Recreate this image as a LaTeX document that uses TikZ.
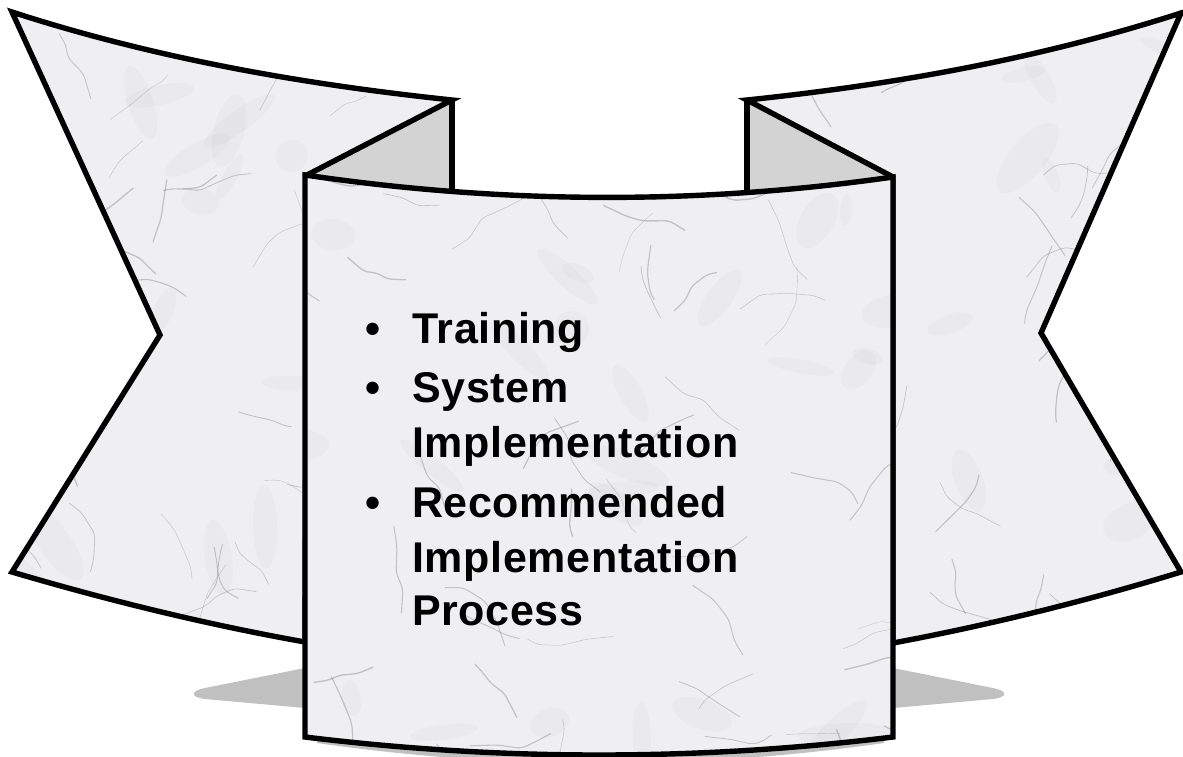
\documentclass[tikz,border=0pt]{standalone}
\usepackage{fontspec}
\newfontfamily\labfont{Liberation Sans}[LetterSpace=1.5]
\definecolor{marble}{HTML}{EFEFF1}
\definecolor{veincol}{HTML}{7E7E88}
\definecolor{foldgray}{HTML}{D3D3D3}
\definecolor{shadowgray}{HTML}{C0C0C0}
\tikzset{
  outline/.style={draw=black,line width=5.4pt},
  veinline/.style={draw=veincol,opacity=0.4,rounded corners=5pt,line cap=round},
  blotch/.style={fill=veincol,opacity=0.045},
  itemtext/.style={font=\labfont\bfseries\fontsize{43}{50}\selectfont,anchor=base west,inner sep=0pt},
  bullettext/.style={font=\labfont\bfseries\fontsize{43}{50}\selectfont,anchor=base,inner sep=0pt}
}
\def\leftribbon{(12,12) .. controls (160,60) and (310,85) .. (452,100) -- (307,175) -- (305,642) .. controls (215,626) and (117,603) .. (12,572) -- (160,335) -- cycle}
\def\rightribbon{(747,100) .. controls (890,85) and (1035,60) .. (1181,13) -- (1041,333) -- (1181,572) .. controls (1080,603) and (984,626) .. (893,643) -- (893,177) -- cycle}
\def\centerpanel{(305,175) .. controls (502,204) and (698,205) .. (893,177) -- (893,737) .. controls (697,761) and (501,761) .. (305,737) -- cycle}
\newcommand\marblework[1]{%
  \pgfmathsetseed{#1}%
  \foreach \k in {1,...,60}{%
    \pgfmathsetmacro\xa{rnd*1183}%
    \pgfmathsetmacro\ya{rnd*757}%
    \pgfmathsetmacro\rx{15+rnd*35}%
    \pgfmathsetmacro\ry{6+rnd*12}%
    \pgfmathsetmacro\rot{rnd*180}%
    \fill[blotch,rotate around={\rot:(\xa,\ya)}] (\xa,\ya) ellipse [x radius=\rx pt, y radius=\ry pt];
  }%
  \foreach \k in {1,...,130}{%
    \pgfmathsetmacro\xa{rnd*1183}%
    \pgfmathsetmacro\ya{rnd*757}%
    \pgfmathsetmacro\aa{rnd*360}%
    \pgfmathsetmacro\ab{\aa-35+rnd*70}%
    \pgfmathsetmacro\ac{\ab-35+rnd*70}%
    \pgfmathsetmacro\ad{\ac-35+rnd*70}%
    \pgfmathsetmacro\la{8+rnd*20}%
    \pgfmathsetmacro\lb{8+rnd*20}%
    \pgfmathsetmacro\lc{8+rnd*20}%
    \pgfmathsetmacro\ld{8+rnd*20}%
    \pgfmathsetmacro\lw{0.3+rnd*1.1}%
    \draw[veinline,line width=\lw pt] (\xa,\ya) -- ++(\aa:\la pt) -- ++(\ab:\lb pt) -- ++(\ac:\lc pt) -- ++(\ad:\ld pt);
  }%
}
\begin{document}
\begin{tikzpicture}[x=1pt,y=-1pt]
\fill[white] (0,0) rectangle (1183,757);
\useasboundingbox (0,0) rectangle (1183,757);
% shadows
\fill[shadowgray] (305,668) -- (205,688) .. controls (190,691) and (190,697) .. (205,699) -- (305,708) -- cycle;
\fill[shadowgray] (893,668) -- (993,688) .. controls (1008,691) and (1008,697) .. (993,699) -- (893,708) -- cycle;
\fill[shadowgray] (317,743) .. controls (505,770) and (695,770) .. (884,743) -- (884,730) -- (317,730) -- cycle;
% left ribbon
\fill[marble] \leftribbon;
\begin{scope}
  \clip \leftribbon;
  \marblework{11}
\end{scope}
% right ribbon
\fill[marble] \rightribbon;
\begin{scope}
  \clip \rightribbon;
  \marblework{23}
\end{scope}
% folds
\fill[foldgray] (307,175) -- (452,100) -- (452,200) -- (307,185) -- cycle;
\fill[foldgray] (747,100) -- (893,177) -- (893,187) -- (747,200) -- cycle;
\draw[outline] \leftribbon;
\draw[outline] \rightribbon;
\draw[outline] (452,100) -- (452,195);
\draw[outline] (747,100) -- (747,195);
% center panel
\fill[marble] \centerpanel;
\begin{scope}
  \clip \centerpanel;
  \marblework{37}
\end{scope}
\draw[outline] \centerpanel;
% text
\node[bullettext] (b1) at (373,343) {•};
\node[itemtext] (t1) at (412,343) {Training};
\node[bullettext] (b2) at (373,402) {•};
\node[itemtext] (t2) at (412,402) {System};
\node[itemtext] (t3) at (412,457) {Implementation};
\node[bullettext] (b3) at (373,517) {•};
\node[itemtext] (t4) at (412,517) {Recommended};
\node[itemtext] (t5) at (412,572) {Implementation};
\node[itemtext] (t6) at (412,625) {Process};
\end{tikzpicture}
\end{document}
